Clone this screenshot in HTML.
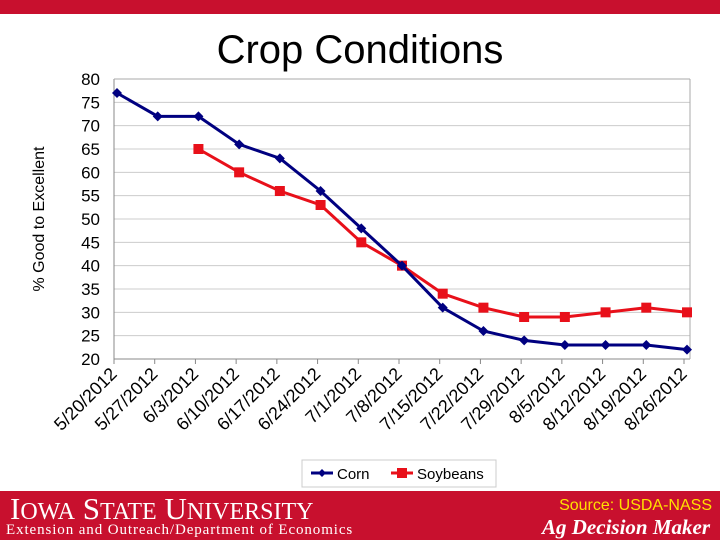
<!DOCTYPE html>
<html><head><meta charset="utf-8"><style>
body{margin:0;width:720px;height:540px;background:#fff;overflow:hidden;position:relative;font-family:"Liberation Sans",sans-serif}
.topbar{position:absolute;left:0;top:0;width:720px;height:14px;background:#c8102e}
.footer{position:absolute;left:0;top:491px;width:720px;height:49px;background:#c8102e}
</style></head><body>
<div class="topbar"></div>
<svg id="chart" width="720" height="490" style="position:absolute;left:0;top:0">
<text x="360" y="63" text-anchor="middle" font-size="40" font-family="Liberation Sans" fill="#000">Crop Conditions</text>
<text transform="translate(44,219) rotate(-90)" text-anchor="middle" font-size="16" fill="#000">% Good to Excellent</text>
<g id="grid"></g><g id="marks"></g><g id="labels"></g>
<g>
<rect x="302" y="460" width="194" height="27" fill="#fff" stroke="#ccc"/>
<g>
<line x1="311" y1="473" x2="333" y2="473" stroke="#000080" stroke-width="3"/>
<path d="M322,469 L326,473 L322,477 L318,473Z" fill="#000080"/>
<text x="337" y="479" font-size="15">Corn</text></g>
<g>
<line x1="391" y1="473" x2="413" y2="473" stroke="#e8101a" stroke-width="3"/>
<rect x="397" y="468" width="10" height="10" fill="#e8101a"/>
<text x="417" y="479" font-size="15">Soybeans</text></g>
</g>
</svg>
<div class="footer">
<div style="position:absolute;left:10px;top:0px;color:#fff;font-family:'Liberation Serif',serif;font-size:31px;letter-spacing:0px;white-space:nowrap">I<span style="font-size:24px">OWA</span> S<span style="font-size:24px">TATE</span> U<span style="font-size:24px">NIVERSITY</span></div>
<div style="position:absolute;left:6px;top:31px;color:#fff;font-family:'Liberation Serif',serif;font-size:15px;letter-spacing:0.9px;white-space:nowrap">Extension and Outreach/Department of Economics</div>
<div style="position:absolute;right:8px;top:6px;color:#ffe000;font-size:16px">Source: USDA-NASS</div>
<div style="position:absolute;right:10px;top:24px;color:#fff;font-family:'Liberation Serif',serif;font-style:italic;font-weight:bold;font-size:21px">Ag Decision Maker</div>
</div>
<script>
const categories=["5/20/2012","5/27/2012","6/3/2012","6/10/2012","6/17/2012","6/24/2012","7/1/2012","7/8/2012","7/15/2012","7/22/2012","7/29/2012","8/5/2012","8/12/2012","8/19/2012","8/26/2012"];
const corn=[77,72,72,66,63,56,48,40,31,26,24,23,23,23,22];
const soybeans=[null,null,65,60,56,53,45,40,34,31,29,29,30,31,30];
const yTicks=[20,25,30,35,40,45,50,55,60,65,70,75,80];
const L=114,R=690,T=79,B=359,NS="http://www.w3.org/2000/svg";
const x=i=>L+3+i*((R-3-L-3)/(categories.length-1));
const y=v=>B-(v-20)/(80-20)*(B-T);
function mk(tag,attrs,parent){const e=document.createElementNS(NS,tag);for(const k in attrs)e.setAttribute(k,attrs[k]);parent.appendChild(e);return e;}
const grid=document.getElementById('grid'),marks=document.getElementById('marks'),labels=document.getElementById('labels');
yTicks.forEach(t=>{
 const l=mk('line',{x1:L,x2:R,y1:y(t),y2:y(t),stroke:t===20?'#888':'#ccc','stroke-width':1},grid);
 
 
 const tx=mk('text',{x:L-14,y:y(t)+6,'text-anchor':'end','font-size':17},labels);
 tx.textContent=t;
 
 
});
mk('line',{x1:L,x2:L,y1:T,y2:B,stroke:'#888'},grid);
mk('line',{x1:R,x2:R,y1:T,y2:B,stroke:'#aaa'},grid);
mk('line',{x1:L,x2:R,y1:T,y2:T,stroke:'#aaa'},grid);
categories.forEach((c,i)=>{
 const tk=mk('line',{x1:x(i)-3,x2:x(i)-3,y1:B,y2:B+5,stroke:'#888'},grid);
 
 
 const tx=mk('text',{x:0,y:0,'text-anchor':'end','font-size':18,transform:`translate(${x(i)+1},${B+16}) rotate(-45)`},labels);
 tx.textContent=c;
 
 
});
function series(vals,color,name,marker){
 let d='';vals.forEach((v,i)=>{if(v==null)return;d+=(d?'L':'M')+x(i)+','+y(v);});
 const p=mk('path',{d,fill:'none',stroke:color,'stroke-width':3},marks);
 
 
 vals.forEach((v,i)=>{if(v==null)return;let m;
  if(marker==='d')m=mk('path',{d:`M${x(i)},${y(v)-5}L${x(i)+5},${y(v)}L${x(i)},${y(v)+5}L${x(i)-5},${y(v)}Z`,fill:color},marks);
  else m=mk('rect',{x:x(i)-5,y:y(v)-5,width:10,height:10,fill:color},marks);
  
  
 });
}
series(soybeans,'#e8101a','soybeans','s');
series(corn,'#000080','corn','d');
</script>
</body></html>
